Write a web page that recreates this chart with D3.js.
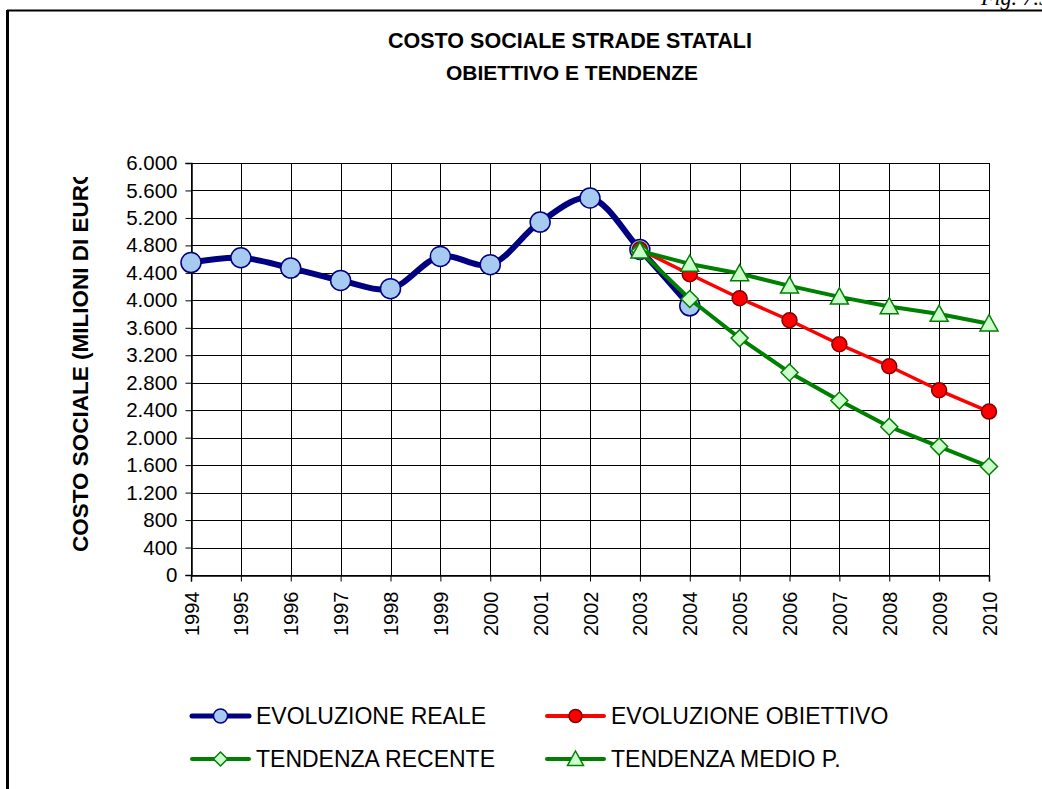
<!DOCTYPE html>
<head>
    <meta charset="utf-8">
    <script src="https://d3js.org/d3.v7.min.js"></script>
    <style>
        *{
            margin:0;
            padding:0;
        }
        html,
        body{
            background: #fff;
            overflow: hidden;
        }
        text{
            font-family: 'Liberation Sans', Arial, sans-serif;
            fill: #000;
        }
    </style>
</head>

<body>
<svg id="chart"></svg>

<script>

    // data
    const years = [1994, 1995, 1996, 1997, 1998, 1999, 2000, 2001, 2002, 2003, 2004, 2005, 2006, 2007, 2008, 2009, 2010];
    const realYears = [1994, 1995, 1996, 1997, 1998, 1999, 2000, 2001, 2002, 2003, 2004];
    const realValues = [4550, 4620, 4470, 4290, 4170, 4640, 4520, 5140, 5490, 4740, 3920];
    const trendYears = [2003, 2004, 2005, 2006, 2007, 2008, 2009, 2010];
    const targetValues = [4740, 4380, 4030, 3710, 3360, 3040, 2690, 2380];
    const recentValues = [4720, 4020, 3450, 2950, 2540, 2160, 1870, 1580];
    const mediumValues = [4720, 4530, 4390, 4210, 4050, 3910, 3800, 3660];
    const yTicks = [0, 400, 800, 1200, 1600, 2000, 2400, 2800, 3200, 3600, 4000, 4400, 4800, 5200, 5600, 6000];
    const seriesNames = ["EVOLUZIONE REALE", "EVOLUZIONE OBIETTIVO", "TENDENZA RECENTE", "TENDENZA MEDIO P."];

    const width = 1042,
        height = 789;

    const svg = d3.select("#chart")
        .attr("width", width)
        .attr("height", height);

    const x = d3.scaleLinear()
        .domain([1994, 2010])
        .range([191, 989]);
    const y = d3.scaleLinear()
        .domain([0, 6000])
        .range([575, 163]);

    const it = d3.formatLocale({decimal: ",", thousands: ".", grouping: [3], currency: ["", ""]});
    const fmt = it.format(",d");

    // page frame + figure number (cut at the top, as on the page)
    svg.append("line")
        .attr("x1", 7).attr("x2", width)
        .attr("y1", 10.5).attr("y2", 10.5)
        .attr("stroke", "#000").attr("stroke-width", 2);
    svg.append("line")
        .attr("x1", 7.5).attr("x2", 7.5)
        .attr("y1", 10).attr("y2", height)
        .attr("stroke", "#000").attr("stroke-width", 3);
    svg.append("text")
        .attr("x", 1050)
        .attr("y", 5)
        .attr("text-anchor", "end")
        .style("font-family", "'Liberation Serif', serif")
        .style("font-style", "italic")
        .style("font-size", "22px")
        .text("Fig. 7.5");

    // title
    svg.append("text")
        .attr("x", 570).attr("y", 48)
        .attr("text-anchor", "middle")
        .style("font-size", "21.5px")
        .style("font-weight", "bold")
        .text("COSTO SOCIALE STRADE STATALI");
    svg.append("text")
        .attr("x", 572).attr("y", 80)
        .attr("text-anchor", "middle")
        .style("font-size", "21px")
        .style("font-weight", "bold")
        .text("OBIETTIVO E TENDENZE");

    // grid
    svg.append("g")
        .selectAll("line")
        .data(yTicks)
        .join("line")
        .attr("x1", x(1994)).attr("x2", x(2010))
        .attr("y1", d => Math.round(y(d)) + 0.5)
        .attr("y2", d => Math.round(y(d)) + 0.5)
        .attr("stroke", "#000").attr("stroke-width", 1);
    svg.append("g")
        .selectAll("line")
        .data(years)
        .join("line")
        .attr("x1", d => Math.round(x(d)) + 0.5)
        .attr("x2", d => Math.round(x(d)) + 0.5)
        .attr("y1", y(6000)).attr("y2", y(0))
        .attr("stroke", "#000").attr("stroke-width", 1);

    // axes
    const yAxis = svg.append("g")
        .attr("transform", `translate(${Math.round(x(1994)) + 0.5},0)`)
        .call(d3.axisLeft(y).tickValues(yTicks).tickFormat(fmt).tickSize(6).tickPadding(8));
    yAxis.select(".domain").attr("stroke", "#000").attr("stroke-width", 1.5);
    yAxis.selectAll("text").style("font-size", "20.5px").attr("fill", "#000");

    const xAxis = svg.append("g")
        .attr("transform", `translate(0,${Math.round(y(0)) + 0.5})`)
        .call(d3.axisBottom(x).tickValues(years).tickFormat(d3.format("d")).tickSize(6));
    xAxis.select(".domain").attr("stroke", "#000").attr("stroke-width", 1.5);
    xAxis.selectAll("text")
        .style("font-size", "20px")
        .attr("fill", "#000")
        .attr("text-anchor", "end")
        .attr("transform", "rotate(-90)")
        .attr("x", -16)
        .attr("y", 0)
        .attr("dy", "0.35em");

    // y axis title, top of it cut off
    svg.append("clipPath").attr("id", "ycut")
        .append("rect").attr("x", 0).attr("y", 177).attr("width", 150).attr("height", 600);
    svg.append("g")
        .attr("clip-path", "url(#ycut)")
        .append("text")
        .attr("transform", "translate(88,552) rotate(-90)")
        .attr("text-anchor", "start")
        .style("font-size", "22.5px")
        .style("font-weight", "bold")
        .text("COSTO SOCIALE (MILIONI DI EURO)");

    // markers
    const circle = (g, r, fill, stroke) =>
        g.append("circle").attr("r", r).attr("fill", fill).attr("stroke", stroke).attr("stroke-width", 1.5);
    const diamond = (g, s, fill, stroke) =>
        g.append("path").attr("d", `M0,${-s}L${s},0L0,${s}L${-s},0Z`)
            .attr("fill", fill).attr("stroke", stroke).attr("stroke-width", 1.5);
    const triangle = (g, s, fill, stroke) =>
        g.append("path").attr("d", `M0,${-s}L${s},${s * 0.8}L${-s},${s * 0.8}Z`)
            .attr("fill", fill).attr("stroke", stroke).attr("stroke-width", 1.5);

    const series = [
        {name: seriesNames[0], xs: realYears, vs: realValues, color: "#000080", w: 6, smooth: true,
            mark: g => circle(g, 10, "#a6caf0", "#000080"), leg: g => circle(g, 7, "#a6caf0", "#000080")},
        {name: seriesNames[1], xs: trendYears, vs: targetValues, color: "#ff0000", w: 3.5, smooth: false,
            mark: g => circle(g, 7.5, "#ff0000", "#800000"), leg: g => circle(g, 6.5, "#ff0000", "#800000")},
        {name: seriesNames[2], xs: trendYears, vs: recentValues, color: "#008000", w: 4, smooth: false,
            mark: g => diamond(g, 8.5, "#ccffcc", "#008000"), leg: g => diamond(g, 7, "#ccffcc", "#008000")},
        {name: seriesNames[3], xs: trendYears, vs: mediumValues, color: "#008000", w: 4, smooth: false,
            mark: g => triangle(g, 9, "#ccffcc", "#008000"), leg: g => triangle(g, 8, "#ccffcc", "#008000")}
    ];

    series.forEach(s => {
        const pts = s.xs.map((d, i) => [x(d), y(s.vs[i])]);
        const line = d3.line().curve(s.smooth ? d3.curveCatmullRom.alpha(0.5) : d3.curveLinear);
        svg.append("path")
            .attr("d", line(pts))
            .attr("fill", "none")
            .attr("stroke", s.color)
            .attr("stroke-width", s.w)
            .attr("stroke-linejoin", "round")
            .attr("stroke-linecap", "round");
        pts.forEach(p => {
            const g = svg.append("g").attr("transform", `translate(${p[0]},${p[1]})`);
            s.mark(g);
        });
    });

    // legend
    const legPos = [[192, 716], [547, 716], [192, 759], [547, 759]];
    series.forEach((s, i) => {
        const [lx, ly] = legPos[i];
        const g = svg.append("g").attr("transform", `translate(${lx},${ly})`);
        g.append("line")
            .attr("x1", 0).attr("x2", 57)
            .attr("stroke", s.color)
            .attr("stroke-width", i == 0 ? 5 : 4)
            .attr("stroke-linecap", "round");
        s.leg(g.append("g").attr("transform", "translate(28.5,0)"));
        g.append("text")
            .attr("x", 64)
            .attr("y", 8)
            .style("font-size", "23px")
            .text(s.name);
    });

</script>
</body>
</html>
